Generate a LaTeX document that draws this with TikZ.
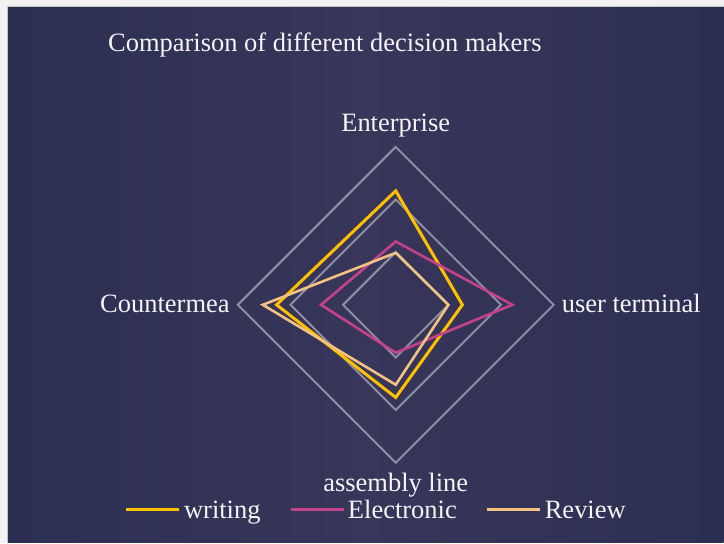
\documentclass[tikz,border=0pt]{standalone}
\usepackage{fontspec}
\setmainfont{Liberation Serif}
\definecolor{bgedge}{HTML}{2B2F52}
\definecolor{bgmid}{HTML}{38365A}
\definecolor{frame}{HTML}{F2F2F2}
\definecolor{frameline}{HTML}{C4C4C4}
\definecolor{gridgray}{HTML}{8E8EA2}
\definecolor{labeltext}{HTML}{F4F4F4}
\definecolor{cwriting}{HTML}{FFC000}
\definecolor{celectronic}{HTML}{C4428A}
\definecolor{creview}{HTML}{F2C184}
\begin{document}
\begin{tikzpicture}[x=1pt,y=-1pt,
  lbl/.style={text=labeltext, font=\fontsize{26.5}{30}\selectfont, inner sep=0pt},
  gridline/.style={draw=gridgray, line width=2pt, line join=miter},
  series/.style={draw=#1, line width=2.6pt, line join=miter}]
% frame and background
\fill[frame] (0,0) rectangle (724,543);
\shade[left color=bgedge, right color=bgedge, middle color=bgmid] (8,7) rectangle (724,543);
\draw[frameline, line width=1pt] (7.5,543) -- (7.5,6.5) -- (724,6.5);
\useasboundingbox (0,0) rectangle (724,543);
% centre
\coordinate (c) at (396,305);
% grid
\foreach \r in {52.7,105.3,158}{
  \draw[gridline] (396,305-\r) -- (396+\r,305) -- (396,305+\r) -- (396-\r,305) -- cycle;
}
% series writing
\coordinate (wt) at (396,191);
\coordinate (wr) at (462.7,305);
\coordinate (wb) at (396,397.7);
\coordinate (wl) at (276.7,305);
\draw[series=cwriting, line width=3pt] (wt) -- (wr) -- (wb) -- (wl) -- cycle;
% series electronic
\coordinate (et) at (396,241.7);
\coordinate (er) at (512.7,305);
\coordinate (eb) at (396,353);
\coordinate (el) at (321.3,305);
\draw[series=celectronic] (et) -- (er) -- (eb) -- (el) -- cycle;
% series review
\coordinate (rt) at (396,253);
\coordinate (rr) at (448.7,305);
\coordinate (rb) at (396,385);
\coordinate (rl) at (263,305);
\draw[series=creview] (rt) -- (rr) -- (rb) -- (rl) -- cycle;
% axis labels
\node[lbl, anchor=base west] (title) at (108,52) {Comparison of different decision makers};
\node[lbl, anchor=base] (ent) at (396,132) {Enterprise};
\node[lbl, anchor=base east] (cnt) at (230,313) {Countermea};
\node[lbl, anchor=base west] (usr) at (562,313) {user terminal};
\node[lbl, anchor=base] (asm) at (396,492) {assembly line};
% legend
\coordinate (l1a) at (126,510); \coordinate (l1b) at (179,510);
\draw[draw=cwriting, line width=3pt] (l1a) -- (l1b);
\node[lbl, anchor=base west] (lg1) at (184,519) {writing};
\coordinate (l2a) at (291,510); \coordinate (l2b) at (344,510);
\draw[draw=celectronic, line width=3pt] (l2a) -- (l2b);
\node[lbl, anchor=base west] (lg2) at (348,519) {Electronic};
\coordinate (l3a) at (487,510); \coordinate (l3b) at (540,510);
\draw[draw=creview, line width=3pt] (l3a) -- (l3b);
\node[lbl, anchor=base west] (lg3) at (545,519) {Review};
\end{tikzpicture}
\end{document}
